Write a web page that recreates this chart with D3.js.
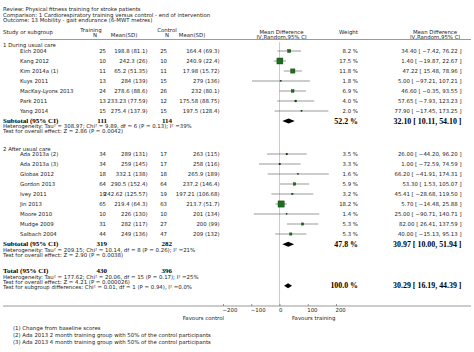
<!DOCTYPE html>
<html>
<head>
<meta charset="utf-8">
<script src="https://cdn.jsdelivr.net/npm/d3@7"></script>
<style>
body { margin: 0; background: #fff; }
text { font-family: "DejaVu Sans", sans-serif; font-size: 5.4px; fill: #222; }
text.b { font-family: "Liberation Serif", serif; font-weight: bold; font-size: 7px; fill: #000; }
text.br { font-size: 7.9px; }
</style>
</head>
<body>
<svg id="chart" width="474" height="352"></svg>
<script>
// studies
var studyNames = ["Eich 2004", "Kang 2012", "Kim 2014a (1)", "Kuys 2011", "MacKay-Lyons 2013", "Park 2011", "Yang 2014",
    "Ada 2013a (2)", "Ada 2013a (3)", "Globas 2012", "Gordon 2013", "Ivey 2011", "Jin 2013", "Moore 2010", "Mudge 2009", "Salbach 2004"];
var studyGroup = [0, 0, 0, 0, 0, 0, 0, 1, 1, 1, 1, 1, 1, 1, 1, 1];
var trainN = [25, 10, 11, 13, 24, 13, 15, 34, 34, 18, 64, 19, 65, 10, 31, 44];
var trainMean = [198.8, 242.3, 65.2, 284, 278.6, 233.23, 275.4, 289, 259, 332.1, 290.5, 242.62, 219.4, 226, 282, 249];
var trainSD = [81.1, 26, 51.35, 139, 88.6, 77.59, 137.9, 131, 145, 138, 152.4, 125.57, 64.3, 130, 117, 136];
var ctrlN = [25, 10, 11, 15, 26, 12, 15, 17, 17, 18, 64, 19, 63, 10, 27, 47];
var ctrlMean = [164.4, 240.9, 17.98, 279, 232, 175.58, 197.5, 263, 258, 265.9, 237.2, 197.21, 213.7, 201, 200, 209];
var ctrlSD = [69.3, 22.4, 15.72, 136, 80.1, 88.75, 128.4, 115, 116, 189, 146.4, 106.68, 51.7, 134, 99, 132];
var weight = [8.2, 17.5, 11.8, 1.8, 6.9, 4.0, 2.0, 3.5, 3.3, 1.6, 5.9, 3.2, 18.2, 1.4, 5.3, 5.3];
var md = [34.40, 1.40, 47.22, 5.00, 46.60, 57.65, 77.90, 26.00, 1.00, 66.20, 53.30, 45.41, 5.70, 25.00, 82.00, 40.00];
var ciLow = [-7.42, -19.87, 15.48, -97.21, -0.35, -7.93, -17.45, -44.20, -72.59, -41.91, 1.53, -28.68, -14.48, -90.71, 26.41, -15.13];
var ciHigh = [76.22, 22.67, 78.96, 107.21, 93.55, 123.23, 173.25, 96.20, 74.59, 174.31, 105.07, 119.50, 25.88, 140.71, 137.59, 95.13];

// subgroups and total
var groupLabels = ["1 During usual care", "2 After usual care"];
var pooledLabels = ["Subtotal (95% CI)", "Subtotal (95% CI)", "Total (95% CI)"];
var pooledTrainN = [111, 319, 430];
var pooledCtrlN = [114, 282, 396];
var pooledWeight = [52.2, 47.8, 100.0];
var pooledMD = [32.10, 30.97, 30.29];
var pooledLow = [10.11, 10.00, 16.19];
var pooledHigh = [54.10, 51.94, 44.39];
var statLines = [
    ["Heterogeneity: Tau\u00b2 = 308.97; Chi\u00b2 = 9.89, df = 6 (P = 0.13); I\u00b2 =39%",
     "Test for overall effect: Z = 2.86 (P = 0.0042)"],
    ["Heterogeneity: Tau\u00b2 = 209.15; Chi\u00b2 = 10.14, df = 8 (P = 0.26); I\u00b2 =21%",
     "Test for overall effect: Z = 2.90 (P = 0.0038)"],
    ["Heterogeneity: Tau\u00b2 = 177.62; Chi\u00b2 = 20.06, df = 15 (P = 0.17); I\u00b2 =25%",
     "Test for overall effect: Z = 4.21 (P = 0.000026)",
     "Test for subgroup differences: Chi\u00b2 = 0.01, df = 1 (P = 0.94), I\u00b2 =0.0%"]
];
var titleLines = ["Review:   Physical fitness training for stroke patients",
    "Comparison:   1 Cardiorespiratory training versus control - end of intervention",
    "Outcome:   13 Mobility - gait endurance (6-MWT metres)"];
var footnotes = ["(1) Change from baseline scores",
    "(2) Ada 2013 2 month training group with 50% of the control participants",
    "(3) Ada 2013 4 month training group with 50% of the control participants"];
var axisTicks = [-200, -100, 0, 100, 200];

var svg = d3.select("#chart");

var x = d3.scaleLinear().domain([-200, 200]).range([223, 336]);
var size = d3.scaleLinear().domain([0, 18.2]).range([0.6, 6.2]);
var f2 = d3.format(".2f"), f1 = d3.format(".1f");

function txt(s, xx, yy, anchor, cls) {
    return svg.append("text")
        .attr("x", xx).attr("y", yy).attr("dy", "0.35em")
        .attr("text-anchor", anchor || "start")
        .attr("class", cls || null)
        .text(s);
}
function ciText(m, lo, hi) {
    return f2(m) + " [ " + f2(lo) + ", " + f2(hi) + " ]";
}

// header
titleLines.forEach(function (s, i) { txt(s, 3, 9.3 + i * 5.4); });
txt("Study or subgroup", 3, 32);
txt("Training", 91, 30.5, "middle");
txt("N", 95, 35.5, "middle");
txt("Mean(SD)", 124, 35.5, "middle");
txt("Control", 167, 30.5, "middle");
txt("N", 167, 35.5, "middle");
txt("Mean(SD)", 192, 35.5, "middle");
txt("Mean Difference", 281.5, 32, "middle");
txt("IV,Random,95% CI", 281.5, 37, "middle");
txt("Weight", 348.5, 32, "middle");
txt("Mean Difference", 435, 32, "middle");
txt("IV,Random,95% CI", 435, 37, "middle");

svg.append("line").attr("x1", 40).attr("x2", 471).attr("y1", 39.5).attr("y2", 39.5)
    .attr("stroke", "#555").attr("stroke-width", 0.6);

// zero line
svg.append("line").attr("x1", x(0)).attr("x2", x(0)).attr("y1", 42).attr("y2", 306)
    .attr("stroke", "#aaa").attr("stroke-width", 0.6);

// row layout
var groupHeadY = [45.5, 149];
var firstRowY = [51, 154];
var pooledY = [120.5, 243.8, 270.8];
var pooledRightY = [121, 244.3, 285.7];

groupLabels.forEach(function (g, gi) { txt(g, 3, groupHeadY[gi]); });

var rowY = studyNames.map(function (d, i) {
    var k = studyGroup.slice(0, i).filter(function (g) { return g === studyGroup[i]; }).length;
    return firstRowY[studyGroup[i]] + k * 10;
});

studyNames.forEach(function (name, i) {
    var y = rowY[i];
    txt(name, 20, y);
    txt(trainN[i], 106, y, "end");
    txt(trainMean[i] + " (" + trainSD[i] + ")", 147.5, y, "end");
    txt(ctrlN[i], 167, y, "end");
    txt(ctrlMean[i] + " (" + ctrlSD[i] + ")", 219.5, y, "end");
    txt(f1(weight[i]) + " %", 358, y, "end");
    txt(ciText(md[i], ciLow[i], ciHigh[i]), 461.5, y, "end");
});

// CI lines and squares
svg.selectAll("line.ci").data(studyNames).enter().append("line")
    .attr("class", "ci")
    .attr("x1", function (d, i) { return x(ciLow[i]); })
    .attr("x2", function (d, i) { return x(ciHigh[i]); })
    .attr("y1", function (d, i) { return rowY[i]; })
    .attr("y2", function (d, i) { return rowY[i]; })
    .attr("stroke", "#555").attr("stroke-width", 0.6);

svg.selectAll("rect.sq").data(studyNames).enter().append("rect")
    .attr("class", "sq")
    .attr("x", function (d, i) { return x(md[i]) - size(weight[i]) / 2; })
    .attr("y", function (d, i) { return rowY[i] - size(weight[i]) / 2; })
    .attr("width", function (d, i) { return size(weight[i]); })
    .attr("height", function (d, i) { return size(weight[i]); })
    .attr("fill", "#1d6e1d").attr("stroke", "#0b3b0b").attr("stroke-width", 0.4);

// pooled rows
pooledLabels.forEach(function (lab, i) {
    var y = pooledY[i], yr = pooledRightY[i];
    txt(lab, 3, y, "start", "b").attr("dy", "0.3em");
    txt(pooledTrainN[i], 107, y, "end", "b").attr("dy", "0.3em");
    txt(pooledCtrlN[i], 172, y, "end", "b").attr("dy", "0.3em");
    txt(f1(pooledWeight[i]) + " %", 358, yr, "end", "b br");
    txt(ciText(pooledMD[i], pooledLow[i], pooledHigh[i]), 461.5, yr, "end", "b br");
    statLines[i].forEach(function (s, j) { txt(s, 3, y + 5.9 + j * 5.1); });
});

svg.selectAll("path.dia").data(pooledMD).enter().append("path")
    .attr("class", "dia")
    .attr("d", function (d, i) {
        var y = pooledRightY[i], h = 2.5;
        return "M" + x(pooledLow[i]) + "," + y + "L" + x(d) + "," + (y - h) +
            "L" + x(pooledHigh[i]) + "," + y + "L" + x(d) + "," + (y + h) + "Z";
    })
    .attr("fill", "#000");

// axis
svg.append("line").attr("x1", 3).attr("x2", 471).attr("y1", 306).attr("y2", 306)
    .attr("stroke", "#555").attr("stroke-width", 0.6);

var axis = svg.append("g").attr("transform", "translate(0,306)")
    .call(d3.axisBottom(x).tickValues(axisTicks).tickSize(-2).tickPadding(2.5));
axis.select(".domain").remove();
axis.selectAll(".tick line").attr("stroke", "#555").attr("stroke-width", 0.6);
axis.selectAll(".tick text").attr("text-anchor", "start").attr("dx", -1)
    .style("font-family", "DejaVu Sans").style("font-size", "5.4px").attr("fill", "#222");

txt("Favours control", 224, 317.7, "end");
txt("Favours training", 292, 317.7, "start");

footnotes.forEach(function (s, i) { txt(s, 13, 327.7 + i * 7); });
</script>
</body>
</html>
